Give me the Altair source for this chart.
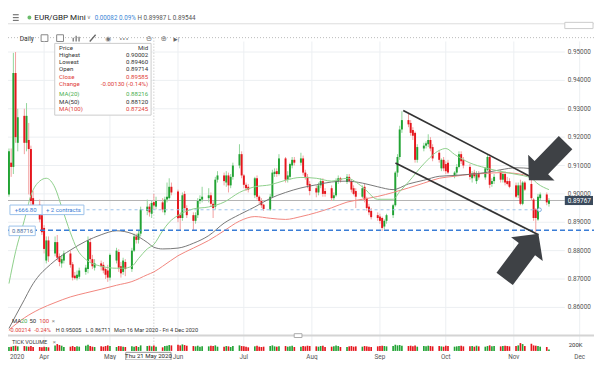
import altair as alt
import numpy as np
import pandas as pd

# ------------------------------------------------------------------
# Values (EUR/GBP Mini, daily candles)
# ------------------------------------------------------------------
first_day = "2020-03-16"

opens = [
    0.8998, 0.9110, 0.9095, 0.9426, 0.9180,  0.9275, 0.9180, 0.9190, 0.9158, 0.8985,
    0.8962, 0.8925, 0.8880, 0.8765, 0.8836,  0.8790, 0.8830, 0.8780, 0.8755, 0.8765,
    0.8790, 0.8752, 0.8712, 0.8703, 0.8708,  0.8725, 0.8735, 0.8830, 0.8770, 0.8740,
    0.8755, 0.8750, 0.8735, 0.8730, 0.8705,  0.8765, 0.8795, 0.8745, 0.8725, 0.8760,
    0.8735, 0.8800, 0.8850, 0.8838, 0.8860,  0.8940, 0.8955, 0.8930, 0.8971, 0.8955,
    0.8970, 0.8935, 0.8980, 0.8985, 0.9025,  0.9008, 0.8925, 0.8915, 0.9000, 0.8950,
    0.8925, 0.8905, 0.8925, 0.8975, 0.8980,  0.8985, 0.8995, 0.8965, 0.8955, 0.9050,
    0.9065, 0.9040, 0.9065, 0.9030, 0.9060,  0.9100, 0.9140, 0.9065, 0.9032, 0.9025,
    0.8995, 0.9055, 0.8990, 0.8975, 0.8962,  0.8945, 0.8990, 0.9070, 0.9080, 0.9070,
    0.9125, 0.9050, 0.9060, 0.9100, 0.9120,  0.9110, 0.9125, 0.9075, 0.9060, 0.9035,
    0.9020, 0.9005, 0.9030, 0.9045, 0.9010,  0.9020, 0.8985, 0.8995, 0.9045, 0.9055,
    0.9042, 0.9060, 0.9045, 0.9020, 0.9010,  0.8990, 0.9025, 0.8985, 0.8955, 0.8940,
    0.8925, 0.8920, 0.8915, 0.8885, 0.8905,  0.8925, 0.8960, 0.9075, 0.9130, 0.9227,
    0.9260, 0.9250, 0.9225, 0.9215, 0.9120,  0.9160, 0.9170, 0.9175, 0.9190, 0.9165,
    0.9145, 0.9090, 0.9120, 0.9105, 0.9110,  0.9065, 0.9075, 0.9095, 0.9140, 0.9120,
    0.9095, 0.9055, 0.9075, 0.9045, 0.9072,  0.9058, 0.9085, 0.9130, 0.9035, 0.9045,
    0.9075, 0.9050, 0.9070, 0.9045, 0.9045,  0.9030, 0.8995, 0.9030, 0.8965, 0.9040,
    0.9035, 0.8980, 0.8945, 0.8910, 0.8985,  0.8998, 0.8965,
]
highs = [
    0.9160, 0.9160, 0.9497, 0.9500, 0.9300,  0.9300, 0.9320, 0.9250, 0.9170, 0.9010,
    0.8980, 0.8935, 0.8890, 0.8850, 0.8850,  0.8850, 0.8855, 0.8790, 0.8785, 0.8800,
    0.8800, 0.8760, 0.8725, 0.8730, 0.8740,  0.8750, 0.8850, 0.8845, 0.8785, 0.8770,
    0.8765, 0.8760, 0.8740, 0.8750, 0.8790,  0.8810, 0.8805, 0.8760, 0.8775, 0.8770,
    0.8810, 0.8860, 0.8860, 0.8870, 0.8955,  0.8980, 0.8965, 0.8975, 0.9000, 0.8990,
    0.8985, 0.8990, 0.9040, 0.9055, 0.9040,  0.9015, 0.8935, 0.9005, 0.9010, 0.8960,
    0.8935, 0.8935, 0.8985, 0.8995, 0.9025,  0.9020, 0.9005, 0.8975, 0.9060, 0.9080,
    0.9075, 0.9080, 0.9075, 0.9070, 0.9110,  0.9175, 0.9150, 0.9070, 0.9040, 0.9035,
    0.9060, 0.9065, 0.8995, 0.8985, 0.8965,  0.9000, 0.9085, 0.9090, 0.9090, 0.9140,
    0.9130, 0.9080, 0.9110, 0.9130, 0.9130,  0.9145, 0.9135, 0.9085, 0.9070, 0.9045,
    0.9030, 0.9040, 0.9055, 0.9055, 0.9020,  0.9030, 0.9005, 0.9055, 0.9065, 0.9060,
    0.9070, 0.9070, 0.9050, 0.9030, 0.9020,  0.9030, 0.9035, 0.8990, 0.8965, 0.8950,
    0.8935, 0.8930, 0.8920, 0.8910, 0.8930,  0.8965, 0.9080, 0.9140, 0.9240, 0.9291,
    0.9285, 0.9260, 0.9235, 0.9220, 0.9175,  0.9180, 0.9185, 0.9210, 0.9200, 0.9175,
    0.9155, 0.9125, 0.9130, 0.9115, 0.9120,  0.9080, 0.9105, 0.9150, 0.9150, 0.9130,
    0.9105, 0.9080, 0.9085, 0.9080, 0.9080,  0.9095, 0.9140, 0.9140, 0.9055, 0.9070,
    0.9085, 0.9080, 0.9080, 0.9060, 0.9055,  0.9040, 0.9040, 0.9050, 0.9045, 0.9045,
    0.9060, 0.8985, 0.8950, 0.9000, 0.9005,  0.9005, 0.8985,
]
lows = [
    0.8990, 0.9060, 0.9070, 0.9180, 0.9150,  0.9140, 0.9150, 0.8998, 0.8950, 0.8930,
    0.8900, 0.8855, 0.8790, 0.8755, 0.8760,  0.8780, 0.8765, 0.8745, 0.8740, 0.8755,
    0.8740, 0.8695, 0.8698, 0.8695, 0.8700,  0.8715, 0.8720, 0.8760, 0.8735, 0.8730,
    0.8730, 0.8720, 0.8700, 0.8690, 0.8695,  0.8755, 0.8725, 0.8705, 0.8715, 0.8710,
    0.8725, 0.8795, 0.8825, 0.8825, 0.8850,  0.8925, 0.8920, 0.8915, 0.8946, 0.8945,
    0.8935, 0.8925, 0.8970, 0.8980, 0.8995,  0.8900, 0.8870, 0.8905, 0.8940, 0.8915,
    0.8870, 0.8895, 0.8915, 0.8965, 0.8970,  0.8970, 0.8955, 0.8915, 0.8945, 0.9040,
    0.9030, 0.9025, 0.9005, 0.9020, 0.9050,  0.9090, 0.9055, 0.9020, 0.9010, 0.9005,
    0.8985, 0.8980, 0.8965, 0.8950, 0.8940,  0.8940, 0.8985, 0.9060, 0.9060, 0.9065,
    0.9040, 0.9040, 0.9050, 0.9090, 0.9100,  0.9100, 0.9065, 0.9050, 0.9020, 0.8995,
    0.8988, 0.8995, 0.9020, 0.8990, 0.8990,  0.8975, 0.8975, 0.8990, 0.9035, 0.9040,
    0.9035, 0.9040, 0.9005, 0.8995, 0.8950,  0.8985, 0.8970, 0.8940, 0.8925, 0.8910,
    0.8905, 0.8895, 0.8870, 0.8875, 0.8895,  0.8915, 0.8955, 0.9060, 0.9120, 0.9215,
    0.9235, 0.9205, 0.9190, 0.9110, 0.9110,  0.9150, 0.9160, 0.9165, 0.9150, 0.9115,
    0.9110, 0.9080, 0.9080, 0.9070, 0.9070,  0.9055, 0.9065, 0.9090, 0.9105, 0.9090,
    0.9050, 0.9040, 0.9055, 0.9035, 0.9050,  0.9050, 0.9080, 0.9020, 0.9025, 0.9035,
    0.9040, 0.9040, 0.9030, 0.9030, 0.9020,  0.8985, 0.8985, 0.8960, 0.8960, 0.9010,
    0.8975, 0.8905, 0.8865, 0.8905, 0.8975,  0.8960, 0.8955,
]
closes = [
    0.9150, 0.9095, 0.9426, 0.9200, 0.9270,  0.9180, 0.9275, 0.9158, 0.8975, 0.8962,
    0.8910, 0.8865, 0.8806, 0.8836, 0.8780,  0.8830, 0.8775, 0.8760, 0.8770, 0.8790,
    0.8750, 0.8705, 0.8703, 0.8715, 0.8730,  0.8740, 0.8836, 0.8770, 0.8745, 0.8755,
    0.8745, 0.8730, 0.8715, 0.8705, 0.8785,  0.8800, 0.8740, 0.8720, 0.8765, 0.8735,
    0.8800, 0.8850, 0.8838, 0.8860, 0.8945,  0.8955, 0.8935, 0.8968, 0.8959, 0.8975,
    0.8945, 0.8980, 0.8990, 0.9025, 0.9005,  0.8914, 0.8915, 0.8995, 0.8950, 0.8925,
    0.8905, 0.8925, 0.8975, 0.8982, 0.8990,  0.8995, 0.8965, 0.8950, 0.9050, 0.9065,
    0.9045, 0.9065, 0.9030, 0.9060, 0.9100,  0.9140, 0.9065, 0.9032, 0.9020, 0.9015,
    0.9055, 0.8990, 0.8975, 0.8960, 0.8947,  0.8990, 0.9075, 0.9078, 0.9070, 0.9125,
    0.9050, 0.9065, 0.9105, 0.9120, 0.9110,  0.9125, 0.9075, 0.9060, 0.9030, 0.9010,
    0.9005, 0.9030, 0.9045, 0.9000, 0.9000,  0.8985, 0.8995, 0.9045, 0.9055, 0.9048,
    0.9060, 0.9045, 0.9015, 0.9000, 0.8990,  0.9020, 0.8980, 0.8950, 0.8935, 0.8918,
    0.8915, 0.8905, 0.8880, 0.8905, 0.8925,  0.8960, 0.9075, 0.9130, 0.9227, 0.9260,
    0.9245, 0.9215, 0.9205, 0.9120, 0.9165,  0.9170, 0.9178, 0.9190, 0.9160, 0.9125,
    0.9120, 0.9120, 0.9090, 0.9080, 0.9075,  0.9075, 0.9095, 0.9140, 0.9115, 0.9100,
    0.9060, 0.9072, 0.9062, 0.9070, 0.9058,  0.9090, 0.9130, 0.9032, 0.9045, 0.9060,
    0.9050, 0.9070, 0.9040, 0.9035, 0.9025,  0.8990, 0.9030, 0.8965, 0.9040, 0.9015,
    0.8985, 0.8915, 0.8915, 0.8990, 0.8998,  0.8970, 0.8977,
]
volumes_k = [
    120, 130, 150, 160, 140,  150, 140, 130, 150, 120,  120, 110, 130, 120, 110,
    170, 210, 180, 160, 120,  130, 150, 120, 140, 130,  160, 190, 150, 130, 120,
    140, 130, 150, 170, 150,  120, 150, 140, 130, 120,  140, 130, 150, 120, 170,
    150, 160, 140, 170, 130,  110, 150, 160, 180, 170,  190, 170, 200, 180, 160,
    150, 140, 160, 130, 140,  140, 160, 150, 170, 130,  130, 150, 140, 120, 150,
    170, 150, 140, 130, 110,  140, 160, 130, 120, 130,  150, 170, 140, 130, 140,
    150, 130, 140, 160, 120,  130, 150, 140, 160, 150,  140, 130, 150, 160, 120,
    130, 140, 170, 150, 120,  120, 140, 150, 130, 140,  130, 150, 140, 130, 120,
    140, 150, 160, 150, 140,  150, 190, 170, 180, 160,  150, 160, 140, 170, 130,
    150, 140, 160, 150, 140,  150, 140, 130, 160, 150,  130, 140, 150, 160, 140,
    140, 150, 130, 160, 140,  130, 150, 170, 140, 150,  140, 150, 160, 150, 140,
    150, 170, 240, 210, 150,  220, 170, 160, 150, 130,  120, 40,
]

ma20_dates = ["2020-03-16", "2020-03-19", "2020-03-23", "2020-03-26", "2020-03-30", "2020-04-02",
              "2020-04-06", "2020-04-09", "2020-04-13", "2020-04-16", "2020-04-20", "2020-04-27",
              "2020-05-04", "2020-05-07", "2020-05-11", "2020-05-14", "2020-05-18", "2020-05-21",
              "2020-05-25", "2020-05-28", "2020-06-01", "2020-06-08", "2020-06-15", "2020-06-22",
              "2020-06-29", "2020-07-06", "2020-07-13", "2020-07-20", "2020-07-27", "2020-08-03",
              "2020-08-10", "2020-08-17", "2020-08-24", "2020-08-31", "2020-09-07", "2020-09-10",
              "2020-09-14", "2020-09-21", "2020-09-28", "2020-10-01", "2020-10-05", "2020-10-12",
              "2020-10-19", "2020-10-26", "2020-11-02", "2020-11-09", "2020-11-12", "2020-11-17"]
ma20_vals = [0.8684, 0.8796, 0.8907, 0.8995, 0.9045, 0.9055, 0.9021, 0.8954, 0.8863, 0.8806,
             0.8769, 0.8745, 0.8738, 0.8738, 0.8745, 0.8772, 0.8806, 0.8822, 0.8870, 0.8900,
             0.8924, 0.8947, 0.8954, 0.8971, 0.9005, 0.9025, 0.9032, 0.9048, 0.9058, 0.9055,
             0.9045, 0.9055, 0.9025, 0.8981, 0.8981, 0.9008, 0.9042, 0.9106, 0.9153, 0.9160,
             0.9139, 0.9109, 0.9092, 0.9079, 0.9069, 0.9055, 0.9035, 0.9015]

ma50_dates = ["2020-03-16", "2020-03-19", "2020-03-23", "2020-03-26", "2020-03-30", "2020-04-02",
              "2020-04-06", "2020-04-13", "2020-04-20", "2020-04-27", "2020-05-04", "2020-05-11",
              "2020-05-18", "2020-05-21", "2020-05-25", "2020-06-01", "2020-06-08", "2020-06-15",
              "2020-06-22", "2020-06-29", "2020-07-06", "2020-07-13", "2020-07-20", "2020-07-27",
              "2020-08-03", "2020-08-10", "2020-08-17", "2020-08-24", "2020-08-31", "2020-09-07",
              "2020-09-14", "2020-09-21", "2020-09-28", "2020-10-05", "2020-10-12", "2020-10-19",
              "2020-10-26", "2020-11-02", "2020-11-09", "2020-11-17"]
ma50_vals = [0.8526, 0.8570, 0.8627, 0.8671, 0.8715, 0.8738, 0.8765, 0.8802, 0.8833, 0.8856,
             0.8870, 0.8860, 0.8829, 0.8812, 0.8806, 0.8809, 0.8826, 0.8853, 0.8897, 0.8927,
             0.8954, 0.8984, 0.9005, 0.9021, 0.9032, 0.9042, 0.9045, 0.9038, 0.9025, 0.9015,
             0.9035, 0.9048, 0.9062, 0.9065, 0.9069, 0.9075, 0.9085, 0.9092, 0.9089, 0.9075]

ma100_dates = ["2020-03-16", "2020-03-23", "2020-03-30", "2020-04-06", "2020-04-13", "2020-04-20",
               "2020-04-27", "2020-05-04", "2020-05-11", "2020-05-18", "2020-05-21", "2020-05-25",
               "2020-06-01", "2020-06-08", "2020-06-15", "2020-06-22", "2020-06-29", "2020-07-06",
               "2020-07-13", "2020-07-20", "2020-07-27", "2020-08-03", "2020-08-10", "2020-08-17",
               "2020-08-24", "2020-08-31", "2020-09-07", "2020-09-14", "2020-09-21", "2020-09-28",
               "2020-10-05", "2020-10-12", "2020-10-19", "2020-10-26", "2020-11-02", "2020-11-09",
               "2020-11-17"]
ma100_vals = [0.8521, 0.8563, 0.8594, 0.8617, 0.8637, 0.8651, 0.8664, 0.8678, 0.8691, 0.8715,
              0.8725, 0.8745, 0.8782, 0.8809, 0.8836, 0.8870, 0.8904, 0.8920, 0.8914, 0.8910,
              0.8920, 0.8934, 0.8951, 0.8971, 0.8981, 0.8991, 0.9005, 0.9021, 0.9038, 0.9055,
              0.9062, 0.9069, 0.9072, 0.9075, 0.9072, 0.9062, 0.9052]

month_labels = ["Apr", "May", "Jun", "Jul", "Aug", "Sep", "Oct", "Nov", "Dec"]
month_starts = ["2020-04-01", "2020-05-01", "2020-06-01", "2020-07-01", "2020-08-01",
                "2020-09-01", "2020-10-01", "2020-11-01", "2020-12-01"]
price_ticks = [0.86, 0.87, 0.88, 0.89, 0.90, 0.91, 0.92, 0.93, 0.94, 0.95]

last_price = 0.89767
support_level = 0.88716
position_level = 0.8944
position_end = "2020-11-12 17:00"
crosshair_day = "2020-05-21"

channel_times = ["2020-09-11 14:24", "2020-11-09 02:24", "2020-09-08 01:12", "2020-11-12 04:48"]
channel_prices = [0.9294, 0.9059, 0.9109, 0.8856]
arrow_times = ["2020-11-16 05:00", "2020-11-04 12:00"]
arrow_prices = [0.9114, 0.8780]

# ------------------------------------------------------------------
# Layout helpers (reference frame is 602 x 368)
# ------------------------------------------------------------------
W, H = 586, 352
SX, SY = W / 602.0, H / 368.0
FONT = "Roboto"
SYM = "DejaVu Sans"


def fx(v):
    return round(v * SX, 2)


def fy(v):
    return round(v * SY, 2)


def fs(v):
    return round(v * (SX + SY) / 2.0, 2)


# calibration of the two price-chart scales in the reference frame
PX_PER_DAY = 2.255
X_FIRST = 1.0
PX_PER_PRICE = 267 / 0.09


def ref_x_to_day(x):
    return (x - X_FIRST) / PX_PER_DAY


def ref_y_to_price(y):
    return 0.95 - (y - 46) / PX_PER_PRICE


T0 = pd.Timestamp(first_day)


def day_of(values):
    return ((pd.to_datetime(pd.Series(list(values))) - T0) / pd.Timedelta(days=1)).tolist()


XS = alt.Scale(domain=[ref_x_to_day(0), ref_x_to_day(560)], range=[0, fx(560)], nice=False, zero=False)
YP = alt.Scale(domain=[ref_y_to_price(342), ref_y_to_price(35)], range=[fy(342), fy(35)],
               nice=False, zero=False)
VS = alt.Scale(domain=[0, 250], range=[fy(358.5), fy(350)], nice=False, zero=False)

one = pd.DataFrame({"k": [0]})


def X(field):
    return alt.X(field, scale=XS, axis=None)


def Y(field, scale=YP):
    return alt.Y(field, scale=scale, axis=None)


def txt(s, x, y, color="#333333", size=6.6, align="left", font=FONT, weight="normal"):
    return alt.Chart(one).mark_text(text=s, align=align, baseline="middle", font=font,
                                    fontSize=fs(size), color=color, fontWeight=weight).encode(
        x=alt.value(fx(x)), y=alt.value(fy(y)))


def box(x1, y1, x2, y2, fill="#ffffff", stroke="#cccccc", sw=1.0):
    kw = dict(fill=fill, strokeWidth=sw)
    if stroke:
        kw["stroke"] = stroke
    return alt.Chart(one).mark_rect(**kw).encode(
        x=alt.value(fx(x1)), x2=alt.value(fx(x2)), y=alt.value(fy(y1)), y2=alt.value(fy(y2)))


def seg(x1, y1, x2, y2, color, sw=1.0, dash=None):
    kw = dict(color=color, strokeWidth=sw)
    if dash:
        kw["strokeDash"] = dash
    return alt.Chart(one).mark_rule(**kw).encode(
        x=alt.value(fx(x1)), x2=alt.value(fx(x2)), y=alt.value(fy(y1)), y2=alt.value(fy(y2)))


# ------------------------------------------------------------------
# Tables
# ------------------------------------------------------------------
dates = pd.bdate_range(first_day, periods=len(closes))
candles = pd.DataFrame({"day": day_of(dates), "open": opens, "high": highs, "low": lows,
                        "close": closes, "vol": volumes_k})
up = candles[candles["close"] >= candles["open"]]
down = candles[candles["close"] < candles["open"]]

ma20 = pd.DataFrame({"day": day_of(ma20_dates), "v": ma20_vals})
ma50 = pd.DataFrame({"day": day_of(ma50_dates), "v": ma50_vals})
ma100 = pd.DataFrame({"day": day_of(ma100_dates), "v": ma100_vals})
months = pd.DataFrame({"label": month_labels, "day": day_of(month_starts)})
ticks = pd.DataFrame({"p": price_ticks})
ch_days = day_of(channel_times)
channels = pd.DataFrame({"d1": [ch_days[0], ch_days[2]], "d2": [ch_days[1], ch_days[3]],
                         "p1": [channel_prices[0], channel_prices[2]],
                         "p2": [channel_prices[1], channel_prices[3]]})
arrows = pd.DataFrame({"day": day_of(arrow_times), "p": arrow_prices})
levels = pd.DataFrame({"p": [last_price]})
support = pd.DataFrame({"p": [support_level]})
position = pd.DataFrame({"p": [position_level], "day": day_of([position_end])})
cross = pd.DataFrame({"day": day_of([crosshair_day])})

GREEN, RED = "#22a334", "#e5151c"
GREEN_W, RED_W = "#93d69c", "#f3a0a0"
GRID = "#eceff2"
BLUE, LBLUE = "#3a7dd6", "#9cc2ea"
ARROW = "M-1,-0.36 L0.32,-0.36 L0.32,-0.7 L1,0 L0.32,0.7 L0.32,0.36 L-1,0.36 Z"

layers = []

# header and toolbar
layers += [
    seg(0, 16.5, 602, 16.5, "#dddddd"),
    box(572, 15, 601, 21.5, stroke="#cccccc"),
    seg(5, 7, 11, 7, "#777777", 1.2), seg(5, 10, 11, 10, "#777777", 1.2), seg(5, 13, 11, 13, "#777777", 1.2),
    alt.Chart(one).mark_point(filled=True, color="#2ca02c", size=fs(16)).encode(
        x=alt.value(fx(22)), y=alt.value(fy(10))),
    txt("EUR/GBP Mini", 27, 10, "#222222", 8.4),
    txt("\u2228", 81, 9.5, "#888888", 6, font=SYM),
    txt("0.00082", 89, 10, "#3a86d6", 6.5),
    txt("0.09%", 114, 10, "#3a86d6", 6.5),
    txt("H 0.89987  L 0.89544", 133, 10, "#555555", 6.5),
    seg(0, 31, 602, 31, "#bbbbbb", 1, [1, 2]),
    txt("Daily", 12, 32, "#333333", 6.8),
    box(34, 28, 41, 35, fill="#ffffff", stroke="#888888"),
    box(50, 28, 57, 35, fill="#ffffff", stroke="#888888"),
    seg(67, 35, 67, 31, "#777777", 1.3), seg(70, 35, 70, 29, "#777777", 1.3), seg(73, 35, 73, 30, "#777777", 1.3),
    seg(84, 35, 90, 28, "#666666", 1.3),
    txt("\u25c9", 103, 32, "#777777", 7, align="center", font=SYM),
    txt("\u2022\u2022\u2022", 119, 32, "#666666", 5.5, align="center", font=SYM),
    txt("\u2296", 145, 32, "#777777", 7.5, align="center", font=SYM),
    txt("\u2295", 160, 32, "#777777", 7.5, align="center", font=SYM),
    txt("\u25b6|", 173, 32, "#666666", 5.5, align="center", font=SYM),
]

# grid
layers += [
    alt.Chart(ticks).mark_rule(color=GRID, strokeWidth=1).encode(
        x=alt.value(0), x2=alt.value(fx(572)), y=Y("p:Q")),
    alt.Chart(months).mark_rule(color=GRID, strokeWidth=1).encode(
        x=X("day:Q"), y=alt.value(fy(35)), y2=alt.value(fy(358))),
    alt.Chart(cross).mark_rule(color="#bbbbbb", strokeWidth=1, strokeDash=[1, 2]).encode(
        x=X("day:Q"), y=alt.value(fy(31)), y2=alt.value(fy(360))),
    alt.Chart(levels).mark_rule(color="#b4b4b4", strokeWidth=1).encode(
        x=alt.value(0), x2=alt.value(fx(572)), y=Y("p:Q")),
]

# candles
layers += [
    alt.Chart(up).mark_rule(color=GREEN_W, strokeWidth=1).encode(x=X("day:Q"), y=Y("low:Q"), y2="high:Q"),
    alt.Chart(down).mark_rule(color=RED_W, strokeWidth=1).encode(x=X("day:Q"), y=Y("low:Q"), y2="high:Q"),
    alt.Chart(up).mark_rule(color=GREEN, strokeWidth=fx(2.0)).encode(x=X("day:Q"), y=Y("open:Q"), y2="close:Q"),
    alt.Chart(down).mark_rule(color=RED, strokeWidth=fx(2.0)).encode(x=X("day:Q"), y=Y("open:Q"), y2="close:Q"),
]

# moving averages
layers += [
    alt.Chart(ma100).mark_line(color="#f2877f", strokeWidth=1, interpolate="monotone").encode(
        x=X("day:Q"), y=Y("v:Q")),
    alt.Chart(ma50).mark_line(color="#6a6a6a", strokeWidth=0.9, interpolate="monotone").encode(
        x=X("day:Q"), y=Y("v:Q")),
    alt.Chart(ma20).mark_line(color="#8fd08c", strokeWidth=1, interpolate="monotone").encode(
        x=X("day:Q"), y=Y("v:Q")),
]

# position and support lines
layers += [
    alt.Chart(position).mark_rule(color=LBLUE, strokeWidth=1, strokeDash=[3, 3]).encode(
        x=X("day:Q"), x2=alt.value(fx(78)), y=Y("p:Q")),
    alt.Chart(position).mark_point(filled=True, fill="#ffffff", stroke="#7fb0e0", strokeWidth=1,
                                   size=fs(14), opacity=1).encode(x=X("day:Q"), y=Y("p:Q")),
    alt.Chart(support).mark_rule(color=BLUE, strokeWidth=1.5, strokeDash=[5, 3]).encode(
        x=alt.value(0), x2=alt.value(W), y=Y("p:Q")),
]

# channel and arrows
layers += [
    alt.Chart(channels).mark_rule(color="#333333", strokeWidth=1.7).encode(
        x=X("d1:Q"), x2="d2:Q", y=Y("p1:Q"), y2="p2:Q"),
    alt.Chart(arrows.iloc[[0]]).mark_point(shape=ARROW, filled=True, color="#3e4145", opacity=1,
                                           size=round((54 * SX) ** 2), angle=134.3).encode(
        x=X("day:Q"), y=Y("p:Q")),
    alt.Chart(arrows.iloc[[1]]).mark_point(shape=ARROW, filled=True, color="#3e4145", opacity=1,
                                           size=round((58 * SX) ** 2), angle=306.7).encode(
        x=X("day:Q"), y=Y("p:Q")),
]

# price axis labels and last price badge
layers += [
    alt.Chart(ticks).mark_text(align="left", baseline="middle", font=FONT, fontSize=fs(6.6),
                               color="#555555").encode(
        x=alt.value(fx(575)), y=Y("p:Q"), text=alt.Text("p:Q", format=".5f")),
    alt.Chart(levels).mark_rect(fill="#3b4a5c").encode(
        x=alt.value(fx(572)), x2=alt.value(fx(601)), y=alt.value(fy(196.5)), y2=alt.value(fy(206))),
    alt.Chart(levels).mark_text(align="left", baseline="middle", font=FONT, fontSize=fs(6.6),
                                color="#ffffff").encode(
        x=alt.value(fx(575)), y=alt.value(fy(201.3)), text=alt.Text("p:Q", format=".5f")),
]

# position badge and support badge
layers += [
    box(2, 206, 78, 216, stroke=LBLUE),
    seg(35, 206, 35, 216, LBLUE),
    txt("+666.80", 7, 211, BLUE, 6.2),
    txt("+ 2 contracts", 39, 211, BLUE, 6.2),
    box(1, 228, 28, 238, stroke=LBLUE),
    txt("0.88716", 4, 233, "#4a6fa0", 6.0),
]

# tooltip box
tip_rows = [("Price", "Mid", "#333333", 41.7), ("Highest", "0.90002", "#333333", 49),
            ("Lowest", "0.89460", "#333333", 56.5), ("Open", "0.89714", "#333333", 64),
            ("Close", "0.89585", "#e0403a", 71.7), ("Change", "-0.00130 (-0.14%)", "#e0403a", 79.3),
            ("MA(20)", "0.88216", "#4caf50", 90), ("MA(50)", "0.88120", "#333333", 98),
            ("MA(100)", "0.87245", "#e0403a", 106)]
layers.append(box(48, 37, 147, 112, stroke="#cccccc"))
for lab, val, col, yy in tip_rows:
    layers.append(txt(lab, 52.5, yy, col, 6.3))
    layers.append(txt(val, 144, yy, col, 6.3, align="right"))

# bottom legends, separator, volume pane
layers += [
    txt("MA", 4, 327, "#333333", 6.2),
    txt("20", 13, 327, "#4caf50", 6.2),
    txt("50", 22, 327, "#333333", 6.2),
    txt("100", 32, 327, "#e0403a", 6.2),
    txt("\u00d7", 45, 327, "#888888", 6.2),
    txt("-0.00214", 1, 337, "#e0403a", 5.8),
    txt("-0.24%", 27, 337, "#e0403a", 5.8),
    txt("H 0.95005", 49, 337, "#333333", 5.8),
    txt("L 0.86711", 80, 337, "#333333", 5.8),
    txt("Mon 16 Mar 2020 - Fri 4 Dec 2020", 109, 337, "#333333", 5.8),
    seg(0, 342.5, 602, 342.5, "#d4d4d4", 2),
    box(294, 340.5, 302, 344.5, stroke="#aaaaaa"),
    alt.Chart(up).mark_rule(color=GREEN, strokeWidth=fx(1.7)).encode(
        x=X("day:Q"), y=Y("vol:Q", VS), y2=alt.value(fy(358.5))),
    alt.Chart(down).mark_rule(color=RED, strokeWidth=fx(1.7)).encode(
        x=X("day:Q"), y=Y("vol:Q", VS), y2=alt.value(fy(358.5))),
    txt("TICK VOLUME", 4, 349.5, "#333333", 5.8),
    txt("\u00d7", 46, 349.5, "#888888", 6.2),
    txt("200K", 576, 352, "#333333", 6.2),
]

# date axis
layers += [
    alt.Chart(months).mark_text(align="center", baseline="middle", font=FONT, fontSize=fs(6.6),
                                color="#555555").encode(
        x=X("day:Q"), y=alt.value(fy(364.5)), text="label:N"),
    txt("2020", 2, 364.5, "#555555", 6.6),
    box(121, 360, 167.5, 368, stroke="#999999"),
    txt("Thu 21 May 2020", 144.3, 364.3, "#222222", 6.3, align="center"),
]

chart = alt.layer(*layers).resolve_scale(y="independent").properties(
    width=W, height=H, autosize=alt.AutoSizeParams(type="none"), padding=0,
    background="#ffffff",
).configure_view(stroke=None)

chart.save("out.html", embed_options={"renderer": "svg", "actions": False})
